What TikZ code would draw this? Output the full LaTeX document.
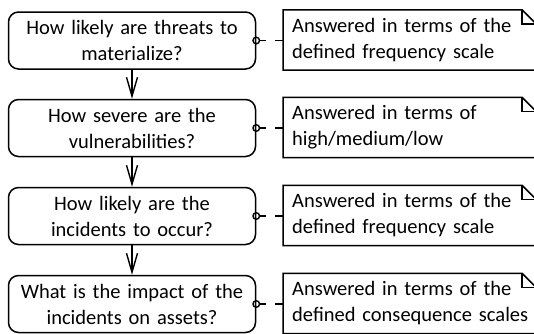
\documentclass[tikz,border=0pt]{standalone}
\usepackage{fontspec}
\setmainfont{Carlito}
\usetikzlibrary{arrows.meta}
\begin{document}
\begin{tikzpicture}[x=1pt,y=-1pt,
  every node/.style={font=\fontsize{20.5}{26}\selectfont},
  qbox/.style={draw,line width=1.5pt,rounded corners=10pt,minimum width=247pt,minimum height=57pt,text width=240pt,align=center,inner sep=0pt},
  notebox/.style={minimum height=60pt,text width=245pt,align=left,inner xsep=9pt,inner ysep=0pt,anchor=west},
  flow/.style={line width=1.4pt,-{Straight Barb[length=19pt,width=11pt,line width=1.4pt]}},
  link/.style={line width=1.4pt,dash pattern=on 8pt off 9pt},
  notepen/.style={line width=1.5pt}
]
\useasboundingbox (0,0) rectangle (534,333);
\node[qbox] (q1) at (132,40.5) {How likely are threats to\\materialize?};
\node[qbox] (q2) at (132,128) {How severe are the\\vulnerabilities?};
\node[qbox] (q3) at (132,216) {How likely are the\\incidents to occur?};
\node[qbox] (q4) at (132,304) {What is the impact of the\\incidents on assets?};
\node[notebox] (n1) at (283,40) {Answered in terms of the\\defined frequency scale};
\node[notebox] (n2) at (283,127.5) {Answered in terms of\\high/medium/low};
\node[notebox] (n3) at (283,215.5) {Answered in terms of the\\defined frequency scale};
\node[notebox] (n4) at (283,303.5) {Answered in terms of the\\defined consequence scales};
\foreach \n in {n1,n2,n3,n4}{
  \draw[notepen,line join=miter] (\n.south west) -- (\n.north west) -- ([xshift=239pt]\n.north west) -- ([xshift=253pt,yshift=-14pt]\n.north west) -- ([xshift=253pt]\n.south west) -- cycle;
  \draw[notepen] ([xshift=239pt]\n.north west) -- ([xshift=239pt,yshift=-14pt]\n.north west) -- ([xshift=253pt,yshift=-14pt]\n.north west);
}
\draw[flow] (q1) -- (q2);
\draw[flow] (q2) -- (q3);
\draw[flow] (q3) -- (q4);
\foreach \q/\n in {q1/n1,q2/n2,q3/n3,q4/n4}{
  \draw[line width=1.4pt] (\q.east) circle (3.3);
  \draw[link] (\n.west |- \q.east) -- ([xshift=3.3pt]\q.east);
}
\end{tikzpicture}
\end{document}
